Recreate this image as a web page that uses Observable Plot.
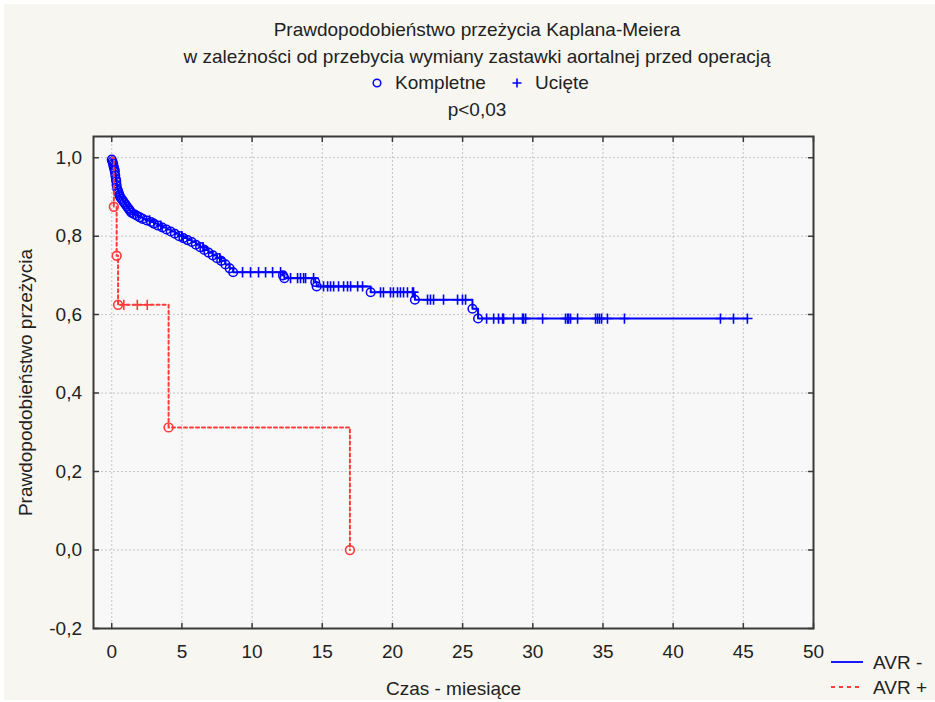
<!DOCTYPE html>
<html><head><meta charset="utf-8">
<script src="https://cdn.jsdelivr.net/npm/d3@7"></script>
<script src="https://cdn.jsdelivr.net/npm/@observablehq/plot@0.6"></script>
<style>
html,body{margin:0;padding:0;background:#ffffff;}
#wrap{position:relative;width:935px;height:702px;font-family:"Liberation Sans",Arial,sans-serif;color:#222;overflow:hidden;}
#bg{position:absolute;left:4px;top:4px;right:0;bottom:2px;background:#f7f6f0;}
#head{position:relative;height:112px;}
#chart{position:relative;}
.t{position:absolute;white-space:nowrap;font-size:19px;line-height:26px;}
.c{left:477px;transform:translateX(-50%);}
svg.sym{position:absolute;overflow:visible;}
</style></head><body>
<div id="wrap">
  <div id="bg"></div>
  <div id="head">
    <div class="t c" style="top:17px">Prawdopodobieństwo przeżycia Kaplana-Meiera</div>
    <div class="t c" style="top:44px">w zależności od przebycia wymiany zastawki aortalnej przed operacją</div>
    <svg class="sym" style="left:372px;top:78px" width="10" height="10"><circle cx="5" cy="5" r="3.8" fill="none" stroke="#0000ff" stroke-width="1.5"/></svg>
    <div class="t" style="left:395px;top:70px">Kompletne</div>
    <svg class="sym" style="left:512px;top:78px" width="10" height="10"><path d="M0.5,5H9.5M5,0.5V9.5" stroke="#0000ff" stroke-width="1.6"/></svg>
    <div class="t" style="left:535px;top:70px">Ucięte</div>
    <div class="t c" style="top:97px">p&lt;0,03</div>
  </div>
  <div id="chart"></div>
  <svg class="sym" style="left:831px;top:657px" width="33" height="10"><line x1="0" y1="5" x2="32" y2="5" stroke="#0000ff" stroke-width="1.8"/></svg>
  <div class="t" style="left:873px;top:650px">AVR -</div>
  <svg class="sym" style="left:831px;top:682px" width="33" height="10"><line x1="0" y1="5" x2="32" y2="5" stroke="#ff3b3b" stroke-width="2" stroke-dasharray="4,4"/></svg>
  <div class="t" style="left:873px;top:675px">AVR +</div>
</div>
<script>
// ---- data ----
const xTicks = [0, 5, 10, 15, 20, 25, 30, 35, 40, 45, 50];
const xTickLabels = ["0", "5", "10", "15", "20", "25", "30", "35", "40", "45", "50"];
const yTicks = [-0.2, 0, 0.2, 0.4, 0.6, 0.8, 1.0];
const yTickLabels = ["-0,2", "0,0", "0,2", "0,4", "0,6", "0,8", "1,0"];

// AVR - (blue): completed events (time, survival after event)
const blueEventTimes = [0.0,0.05,0.1,0.12,0.15,0.2,0.22,0.25,0.3,0.32,0.35,0.4,0.45,0.5,0.55,0.6,0.7,0.8,0.9,1.0,1.1,1.2,1.3,1.4,1.6,1.8,2.0,2.2,2.5,2.8,3.0,3.3,3.6,3.9,4.2,4.5,4.8,5.1,5.4,5.7,6.0,6.3,6.6,6.9,7.2,7.5,7.8,8.1,8.4,8.65,12.2,12.3,14.5,14.6,18.45,21.6,25.7,26.1];
const blueEventSurv = [0.995,0.99,0.985,0.98,0.975,0.97,0.965,0.955,0.945,0.94,0.93,0.92,0.915,0.91,0.905,0.90,0.895,0.89,0.885,0.88,0.875,0.87,0.865,0.86,0.856,0.852,0.848,0.844,0.84,0.836,0.832,0.827,0.822,0.817,0.812,0.806,0.80,0.795,0.79,0.785,0.778,0.772,0.765,0.758,0.751,0.744,0.737,0.728,0.718,0.708,0.70,0.693,0.683,0.672,0.657,0.638,0.615,0.59];
// AVR - (blue): censored times
const blueCensorTimes = [1.5,2.7,3.5,5.0,6.5,7.7,9.32,9.89,10.46,10.96,11.46,12.03,12.74,13.24,13.45,13.67,13.81,14.38,15.09,15.38,15.59,15.81,16.16,16.52,16.8,17.02,17.52,17.87,19.15,19.36,19.86,20.07,20.36,20.57,20.79,21.07,21.43,21.5,22.5,22.71,22.93,23.64,24.64,24.99,25.21,26.71,27.21,27.56,27.85,27.92,28.63,29.27,29.34,29.49,30.7,32.33,32.48,32.55,32.69,33.19,34.47,34.61,34.75,34.9,35.32,36.53,43.37,44.3,45.29];

// AVR + (red)
const redEventTimes = [0.15, 0.35, 0.45, 4.05, 16.97];
const redEventSurv = [0.875, 0.75, 0.625, 0.3125, 0.0];
const redCensorTimes = [0.86, 1.82, 2.53];

const xDomain = [-1.3, 50];
const yDomain = [-0.2, 1.054];

// ---- build tables ----
function survAt(t, times, survs) {
  let s = 1;
  for (let i = 0; i < times.length; i++) if (times[i] <= t) s = survs[i];
  return s;
}
function build(evT, evS, cT) {
  const events = evT.map((t, i) => ({t, s: evS[i]}));
  const cens = cT.map(t => ({t, s: survAt(t, evT, evS)}));
  const lastT = Math.max(evT[evT.length - 1], cT.length ? cT[cT.length - 1] : 0);
  const path = [{t: 0, s: 1}, ...events, {t: lastT, s: survAt(lastT, evT, evS)}];
  return {events, cens, path};
}
const blue = build(blueEventTimes, blueEventSurv, blueCensorTimes);
const red = build(redEventTimes, redEventSurv, redCensorTimes);

const BLUE = "#0000ff", RED = "#ff3b3b", AX = "#3a3a3a", TXT = "#222";
const tickShape = {draw(ctx, l) { ctx.moveTo(0, 0); ctx.lineTo(0, -l); }};
const tickOpts = {length: 5, anchor: "start", shape: tickShape, stroke: AX, strokeWidth: 1.5};

const chart = Plot.plot({
  width: 935, height: 590,
  marginTop: 24, marginBottom: 74, marginLeft: 93, marginRight: 122,
  x: {domain: xDomain, axis: null},
  y: {domain: yDomain, axis: null},
  style: {fontFamily: '"Liberation Sans", Arial, sans-serif', fontSize: "19px", background: "transparent", overflow: "visible"},
  marks: [
    Plot.frame({fill: "#f8f8f8", stroke: "none"}),
    Plot.gridX(xTicks, {stroke: "#c4c4c4", strokeOpacity: 1, strokeDasharray: "2,2"}),
    Plot.gridY(yTicks, {stroke: "#c4c4c4", strokeOpacity: 1, strokeDasharray: "2,2"}),
    Plot.line(blue.path, {x: "t", y: "s", curve: "step-after", stroke: BLUE, strokeWidth: 2}),
    Plot.dot(blue.events, {x: "t", y: "s", r: 4.3, stroke: BLUE, strokeWidth: 1.5, fill: "none"}),
    Plot.dot(blue.cens, {x: "t", y: "s", symbol: "plus", r: 3.4, stroke: BLUE, strokeWidth: 1.6}),
    Plot.line(red.path, {x: "t", y: "s", curve: "step-after", stroke: RED, strokeWidth: 2, strokeDasharray: "3,3"}),
    Plot.dot(red.events, {x: "t", y: "s", r: 4.4, stroke: RED, strokeWidth: 1.6, fill: "none"}),
    Plot.dot(red.cens, {x: "t", y: "s", symbol: "plus", r: 3.4, stroke: RED, strokeWidth: 1.6}),
    Plot.frame({stroke: AX, strokeWidth: 2, fill: "none"}),
    Plot.vector(xTicks, {x: d => d, frameAnchor: "bottom", rotate: 0, ...tickOpts}),
    Plot.vector(xTicks, {x: d => d, frameAnchor: "top", rotate: 180, ...tickOpts}),
    Plot.vector(yTicks, {y: d => d, frameAnchor: "left", rotate: 90, ...tickOpts}),
    Plot.vector(yTicks, {y: d => d, frameAnchor: "right", rotate: -90, ...tickOpts}),
    Plot.text(xTicks, {x: d => d, text: (d, i) => xTickLabels[i], frameAnchor: "bottom", dy: 23.5, textAnchor: "middle", lineAnchor: "middle", fill: TXT, fontSize: 19}),
    Plot.text(yTicks, {y: d => d, text: (d, i) => yTickLabels[i], frameAnchor: "left", dx: -11.5, textAnchor: "end", lineAnchor: "middle", fill: TXT, fontSize: 19}),
    Plot.text(["Czas - miesiące"], {frameAnchor: "bottom", dy: 60, textAnchor: "middle", lineAnchor: "middle", fill: TXT, fontSize: 19}),
    Plot.text(["Prawdopodobieństwo przeżycia"], {frameAnchor: "left", dx: -68, rotate: -90, textAnchor: "middle", lineAnchor: "middle", fill: TXT, fontSize: 19})
  ]
});
document.getElementById("chart").appendChild(chart);
</script>
</body></html>
